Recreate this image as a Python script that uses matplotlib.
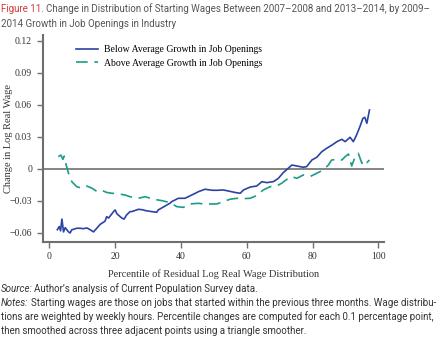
import matplotlib
matplotlib.use("Agg")
import matplotlib.pyplot as plt

# Percentile / change in log real wage
below_pct = [2.4, 3.0, 3.4, 3.8, 4.3, 4.8, 5.3, 5.8, 6.3, 6.8, 7.3, 8.3, 9.3, 10.3,
             11.4, 12.4, 13.4, 14.4, 15.4, 16.9, 17.4, 18.0, 19.5, 20.0, 20.5, 22.0,
             22.7, 23.5, 24.5, 25.0, 27.1, 28.6, 29.1, 31.1, 32.6, 33.1, 35.2, 36.7,
             37.2, 39.2, 41.2, 43.3, 45.3, 47.3, 48.8, 49.8, 50.9, 52.9, 54.9, 56.4,
             58.0, 59.0, 61.0, 63.0, 64.6, 66.1, 68.1, 69.6, 71.1, 72.6, 73.7, 75.2,
             77.2, 78.2, 79.8, 81.3, 82.8, 84.3, 85.8, 87.4, 88.9, 89.9, 91.4, 92.4,
             93.4, 94.4, 95.3, 95.9, 96.5, 97.3]
below_chg = [-0.057, -0.054, -0.058, -0.047, -0.059, -0.055, -0.057, -0.059, -0.060,
             -0.057, -0.0566, -0.0556, -0.0556, -0.056, -0.0553, -0.057, -0.059,
             -0.0556, -0.052, -0.049, -0.0447, -0.046, -0.040, -0.0384, -0.042, -0.046,
             -0.047, -0.043, -0.040, -0.040, -0.0378, -0.0384, -0.039, -0.040, -0.0406,
             -0.0384, -0.0347, -0.032, -0.0306, -0.0275, -0.0275, -0.0244, -0.0213,
             -0.019, -0.0197, -0.020, -0.020, -0.0197, -0.021, -0.022, -0.0228, -0.0197,
             -0.017, -0.016, -0.0119, -0.0128, -0.0119, -0.0088, -0.0034, 0.0006,
             0.0037, 0.0028, 0.0016, 0.0022, 0.0084, 0.011, 0.0162, 0.0194, 0.0222,
             0.0256, 0.0278, 0.0256, 0.0297, 0.0256, 0.032, 0.0397, 0.0475, 0.0484,
             0.0428, 0.0553]

above_pct = [2.7, 3.5, 4.1, 4.5, 5.1, 5.8, 6.8, 8.3, 9.8, 11.4, 12.9, 14.4, 15.9, 17.4,
             19.0, 21.0, 23.0, 24.5, 27.1, 29.1, 31.6, 34.2, 36.7, 38.7, 40.7, 42.8,
             45.3, 47.3, 49.4, 50.9, 52.9, 54.9, 57.0, 59.0, 61.0, 63.0, 65.0, 67.1,
             69.1, 70.6, 72.2, 73.7, 75.2, 77.2, 79.2, 81.3, 83.3, 84.8, 85.8, 87.4,
             88.9, 89.9, 90.9, 91.9, 92.9, 93.9, 95.0, 95.7, 96.5, 97.3]
above_chg = [0.0115, 0.013, 0.009, 0.012, 0.0037, -0.004, -0.0119, -0.0166, -0.018,
             -0.016, -0.018, -0.021, -0.020, -0.022, -0.0228, -0.0234, -0.0244, -0.026,
             -0.0275, -0.026, -0.0284, -0.0297, -0.0316, -0.0353, -0.036, -0.0328,
             -0.0322, -0.033, -0.0328, -0.0328, -0.0306, -0.0284, -0.0275, -0.0278,
             -0.0275, -0.025, -0.0197, -0.0166, -0.016, -0.0134, -0.0097, -0.0072,
             -0.0088, -0.0056, -0.0072, -0.004, -0.0009, 0.0037, 0.0084, 0.009, 0.0084,
             0.0115, 0.014, 0.0028, 0.011, 0.0147, 0.0053, 0.0084, 0.0059, 0.0084]

x_ticks = [0, 20, 40, 60, 80, 100]
y_ticks = [-0.06, -0.03, 0, 0.03, 0.06, 0.09, 0.12]
y_labels = ["\u22120.06", "\u22120.03", "0", "0.03", "0.06", "0.09", "0.12"]

serif = "Liberation Serif"
sans = "Roboto"
gray = "#6f6f6f"

fig = plt.figure(figsize=(4.4, 3.37), dpi=100)
ax = fig.add_axes([0.0966, 0.2828, 0.776, 0.6133])

ax.axhline(0, color=gray, lw=1.2, zorder=1)
ax.plot(below_pct, below_chg, color="#2b43a6", lw=1.2,
        label="Below Average Growth in Job Openings", zorder=3)
ax.plot(above_pct, above_chg, color="#1b9c86", lw=1.2, dashes=(7, 4),
        label="Above Average Growth in Job Openings", zorder=2)

ax.set_xlim(-2.1, 101.7)
ax.set_ylim(-0.0682, 0.1256)
ax.set_xticks(x_ticks)
ax.set_yticks(y_ticks)
ax.set_yticklabels(y_labels)
for s in ["top", "right"]:
    ax.spines[s].set_visible(False)
for s in ["left", "bottom"]:
    ax.spines[s].set_color(gray)
    ax.spines[s].set_linewidth(1.5)
ax.tick_params(colors=gray, labelcolor="#333333", length=4, width=1, labelsize=7)
for lab in ax.get_xticklabels() + ax.get_yticklabels():
    lab.set_family(serif)

ax.set_xlabel("Percentile of Residual Log Real Wage Distribution",
              family=serif, fontsize=7.5, color="#333333", labelpad=6)
ax.set_ylabel("Change in Log Real Wage", family=serif, fontsize=7.5,
              color="#333333")
# y label sits about 12 px from the left edge of the figure
ax.yaxis.set_label_coords(-30 / (0.776 * 440), 0.5)

ax.legend(loc="upper left", bbox_to_anchor=(76 / 440, 1 - 45 / 337),
          bbox_transform=fig.transFigure, frameon=False, borderpad=0,
          borderaxespad=0, handlelength=2.3, handletextpad=0.6, labelspacing=0.5,
          prop={"family": serif, "size": 7})

# title: red figure number followed by dark text
t1 = fig.text(0.002, 1 - 9 / 337, "Figure 11.", color="#d23a3a", family=sans,
              fontsize=7.0, va="center")
fig.canvas.draw()
bb = t1.get_window_extent(fig.canvas.get_renderer())
fig.text(bb.x1 / fig.bbox.width + 0.005, 1 - 9 / 337,
         "Change in Distribution of Starting Wages Between 2007\u20132008 and 2013\u20132014, by 2009\u2013",
         color="#555555", family=sans, fontsize=7.0, va="center")
fig.text(0.002, 1 - 24 / 337, "2014 Growth in Job Openings in Industry",
         color="#555555", family=sans, fontsize=7.0, va="center")

# source and notes
fig.text(0.002, 1 - 289 / 337, "Source:", style="italic", family=sans,
         fontsize=7, color="#333333", va="center")
fig.text(0.077, 1 - 289 / 337, "Author\u2019s analysis of Current Population Survey data.",
         family=sans, fontsize=7, color="#333333", va="center")
fig.text(0.002, 1 - 303 / 337, "Notes:", style="italic", family=sans,
         fontsize=7, color="#333333", va="center")
fig.text(0.070, 1 - 303 / 337,
         "Starting wages are those on jobs that started within the previous three months. Wage distribu-",
         family=sans, fontsize=7, color="#333333", va="center")
fig.text(0.002, 1 - 317 / 337,
         "tions are weighted by weekly hours. Percentile changes are computed for each 0.1 percentage point,",
         family=sans, fontsize=7, color="#333333", va="center")
fig.text(0.002, 1 - 331 / 337,
         "then smoothed across three adjacent points using a triangle smoother.",
         family=sans, fontsize=7, color="#333333", va="center")

fig.savefig("out.png", dpi=100)
